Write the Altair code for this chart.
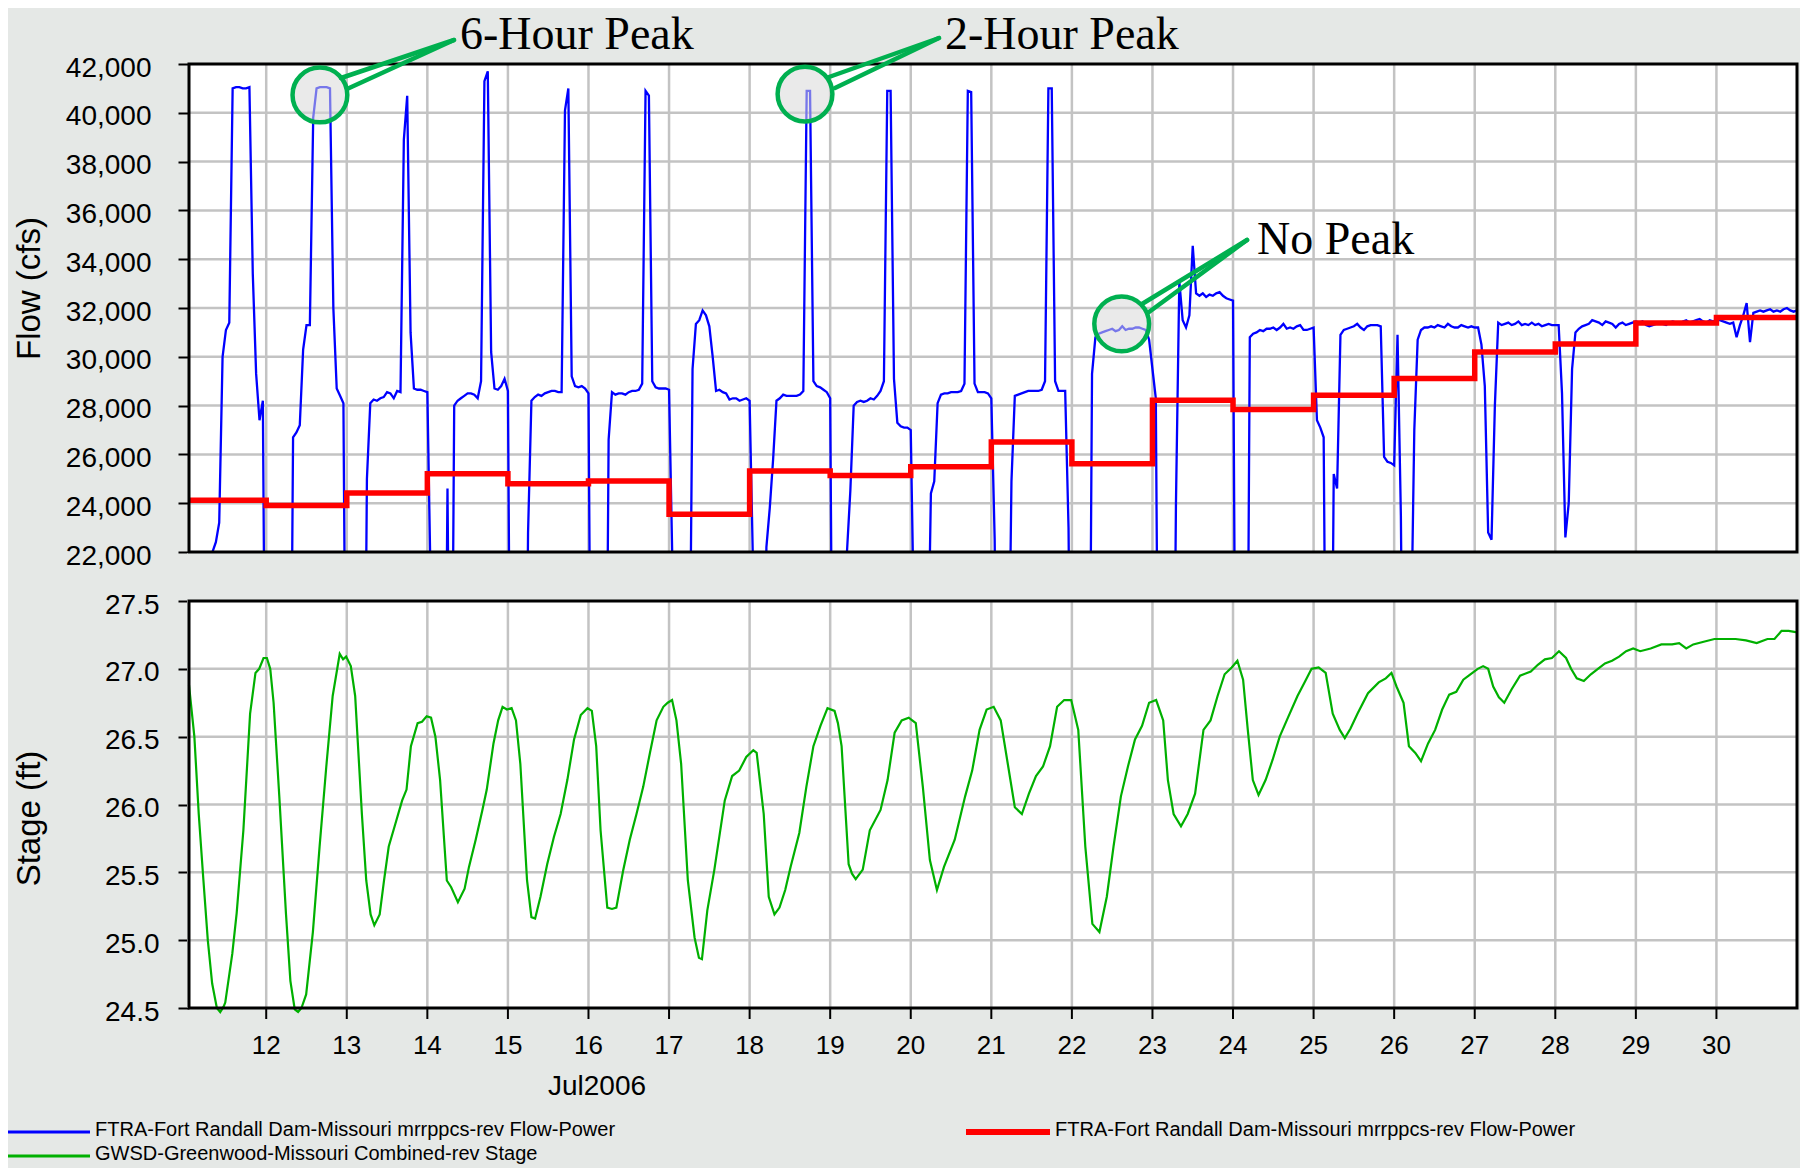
import altair as alt
import pandas as pd

# ---------------- values ----------------
# FTRA hourly flow (cfs), hours 01..24 of each day in July 2006 (values below 22,000 are off-axis lows)
flow_11 = [8000, 8000, 8000, 8000, 8000, 8000, 8000, 22000, 22400, 23200, 30000, 31100, 31400, 41000, 41050, 41050, 41000, 41000, 41050, 33400, 29300, 27400, 28200, 8000]
flow_12 = [8000, 8000, 8000, 8000, 8000, 8000, 8000, 26700, 26900, 27200, 30300, 31300, 31300, 39800, 41000, 41050, 41050, 41050, 41000, 32000, 28700, 28400, 28100, 8000]
flow_13 = [8000, 8000, 8000, 8000, 8000, 25000, 28100, 28250, 28200, 28300, 28350, 28550, 28500, 28300, 28600, 28550, 38900, 40700, 31000, 28700, 28650, 28650, 28600, 28550]
flow_14 = [20500, 8000, 8000, 8000, 8000, 24600, 8000, 28000, 28200, 28300, 28400, 28500, 28500, 28450, 28300, 29000, 41300, 41700, 30200, 28700, 28650, 28800, 29100, 28600]
flow_15 = [8000, 8000, 8000, 8000, 8000, 22800, 28200, 28350, 28450, 28400, 28500, 28550, 28600, 28600, 28550, 28550, 40100, 41000, 29200, 28800, 28750, 28800, 28700, 28500]
flow_16 = [8000, 8000, 8000, 8000, 8000, 26600, 28550, 28450, 28500, 28500, 28450, 28550, 28600, 28600, 28650, 28900, 40900, 40700, 29000, 28750, 28700, 28700, 28700, 28650]
flow_17 = [21500, 8000, 8000, 8000, 8000, 14000, 29500, 31350, 31500, 31900, 31700, 31250, 30000, 28600, 28650, 28550, 28500, 28250, 28300, 28300, 28200, 28250, 28300, 28200]
flow_18 = [21500, 8000, 8000, 8000, 22200, 23800, 25800, 28200, 28300, 28450, 28400, 28400, 28400, 28400, 28450, 28600, 40900, 40900, 29000, 28800, 28750, 28650, 28550, 28300]
flow_19 = [8000, 8000, 8000, 8000, 22000, 24500, 28000, 28150, 28200, 28150, 28200, 28300, 28250, 28400, 28600, 29000, 40900, 40900, 29100, 27300, 27150, 27100, 27100, 27000]
flow_20 = [18700, 8000, 8000, 8000, 16000, 24400, 24900, 28100, 28450, 28500, 28500, 28550, 28550, 28550, 28600, 28900, 40900, 40850, 28900, 28550, 28550, 28550, 28500, 28300]
flow_21 = [22500, 8000, 8000, 8000, 14000, 24900, 28400, 28450, 28500, 28550, 28600, 28600, 28600, 28600, 28650, 29000, 41000, 41000, 29000, 28600, 28600, 28600, 23000, 8000]
flow_22 = [8000, 8000, 8000, 8000, 8000, 29300, 30800, 30950, 31000, 31050, 31100, 31150, 31050, 31100, 31250, 31100, 31150, 31150, 31200, 31200, 31150, 31100, 30700, 29500]
flow_23 = [28300, 8000, 8000, 8000, 8000, 8000, 24000, 33100, 31500, 31200, 31700, 34550, 32600, 32500, 32600, 32450, 32550, 32500, 32600, 32650, 32500, 32400, 32350, 32300]
flow_24 = [8000, 8000, 8000, 8000, 30800, 30950, 31000, 31100, 31050, 31150, 31150, 31200, 31100, 31200, 31350, 31150, 31200, 31150, 31250, 31300, 31100, 31100, 31150, 31200]
flow_25 = [27400, 27100, 26700, 8000, 8000, 25200, 24600, 30900, 31100, 31150, 31200, 31250, 31350, 31200, 31100, 31250, 31300, 31300, 31300, 31250, 25900, 25700, 25650, 25550]
flow_26 = [30900, 23500, 8000, 8000, 18000, 27000, 30700, 31100, 31200, 31200, 31250, 31200, 31300, 31250, 31200, 31350, 31250, 31200, 31200, 31300, 31250, 31200, 31250, 31200]
flow_27 = [31200, 30500, 28800, 22800, 22500, 28000, 31400, 31300, 31350, 31400, 31300, 31350, 31450, 31300, 31350, 31300, 31400, 31300, 31350, 31250, 31300, 31350, 31300, 31300]
flow_28 = [31300, 28500, 22600, 24000, 29500, 31000, 31150, 31250, 31300, 31350, 31500, 31450, 31400, 31300, 31450, 31400, 31350, 31200, 31350, 31400, 31300, 31350, 31400, 31450]
flow_29 = [31400, 31450, 31300, 31250, 31300, 31350, 31400, 31350, 31300, 31400, 31450, 31400, 31350, 31450, 31500, 31400, 31450, 31500, 31550, 31450, 31400, 31500, 31450, 31500]
flow_30 = [31500, 31450, 31400, 31350, 31400, 30800, 31300, 31700, 32200, 30600, 31800, 31850, 31900, 31850, 31900, 31950, 31850, 31900, 31850, 31950, 32000, 31900, 31850, 31900]

# FTRA daily flow (cfs), Jul 11 .. Jul 30
ftra_daily = [24120, 23910, 24420, 25210, 24800, 24910, 23550, 25320, 25140, 25490,
              26510, 25620, 28220, 27840, 28420, 29110, 30200, 30520, 31390, 31610]

# GWSD stage (ft): hours after Jul 11 00:00 and stage
stage_hours = [1.0, 2.6, 3.9, 5.3, 6.6, 7.9, 9.3, 10.3, 11.3, 11.8, 13.9, 15.2, 17.2, 19.2, 20.8, 21.9, 23.2, 24.2,
               25.2, 26.2, 27.9, 29.9, 31.2, 32.5, 33.5, 34.5, 35.9, 37.9, 39.9, 41.9, 43.8, 45.9, 46.9, 47.8,
               49.2, 50.5, 52.5, 53.8, 55.1, 56.2, 57.8, 59.1, 60.5, 62.5, 64.5, 65.8, 67.1, 69.1, 70.4, 71.8,
               73.1, 74.4, 75.8, 77.8, 79.1, 81.1, 83.1, 84.4, 86.4, 88.4, 89.7, 91.7, 93.1, 94.4, 95.7, 97.1,
               98.4, 99.7, 101.7, 103.0, 104.1, 105.7, 107.7, 109.7, 111.7, 113.7, 115.7, 117.7, 119.7, 121.0,
               122.3, 123.6, 125.6, 127.0, 128.3, 130.3, 132.3, 134.3, 136.3, 138.3, 140.3, 142.3, 143.6, 144.9,
               146.2, 147.6, 149.6, 151.6, 152.9, 153.8, 155.4, 157.5, 160.6, 162.8, 164.9, 167.0, 169.1, 170.1,
               172.2, 173.7, 175.4, 176.9, 178.6, 180.2, 182.8, 184.9, 187.0, 189.1, 191.2, 193.3, 194.3, 195.4,
               197.5, 198.5, 199.6, 201.7, 203.8, 207.0, 209.1, 211.2, 213.3, 215.4, 217.5, 219.6, 221.7, 223.8,
               225.9, 229.1, 232.2, 234.3, 236.5, 238.6, 240.7, 242.8, 244.9, 247.0, 249.1, 251.2, 253.3, 255.4,
               257.5, 259.6, 261.7, 263.8, 265.9, 268.0, 270.1, 272.2, 274.4, 276.4, 278.6, 280.7, 282.8, 284.9,
               287.0, 289.1, 291.2, 292.6, 294.3, 296.5, 298.5, 300.7, 303.2, 305.3, 307.4, 309.5, 311.6, 313.3,
               315.0, 316.4, 317.9, 319.6, 321.7, 323.8, 325.9, 328.0, 331.2, 333.3, 335.4, 337.5, 339.6, 341.7,
               343.8, 345.3, 347.0, 349.1, 352.2, 355.4, 357.5, 359.2, 360.7, 362.8, 364.4, 366.3, 368.0, 370.1,
               372.2, 374.3, 376.4, 378.5, 380.6, 382.7, 384.9, 386.5, 388.0, 389.5, 391.2, 392.8, 395.0, 397.5,
               400.7, 402.8, 404.9, 407.0, 409.1, 411.2, 412.7, 414.4, 416.5, 418.6, 420.7, 422.8, 424.9, 427.0,
               429.1, 431.2, 433.3, 436.4, 439.6, 442.8, 444.9, 447.0, 449.1, 452.2, 455.4, 458.5, 461.7, 464.8,
               468.0, 471.2, 473.3, 475.4, 477.5, 479.6, 480.0]
stage_ft = [26.88, 26.50, 25.93, 25.44, 25.00, 24.68, 24.50, 24.47, 24.51, 24.54, 24.90, 25.20, 25.81, 26.67, 26.97, 27.00, 27.08, 27.08,
            27.00, 26.75, 26.06, 25.19, 24.70, 24.49, 24.47, 24.50, 24.60, 25.06, 25.69, 26.28, 26.80, 27.11, 27.07, 27.09,
            27.02, 26.80, 25.93, 25.44, 25.19, 25.11, 25.19, 25.44, 25.69, 25.86, 26.03, 26.11, 26.43, 26.60, 26.61, 26.65,
            26.64, 26.50, 26.18, 25.44, 25.39, 25.28, 25.38, 25.54, 25.74, 25.96, 26.11, 26.45, 26.62, 26.72, 26.70, 26.71,
            26.62, 26.30, 25.44, 25.17, 25.16, 25.32, 25.56, 25.76, 25.93, 26.18, 26.48, 26.66, 26.71, 26.69,
            26.43, 25.81, 25.24, 25.23, 25.24, 25.51, 25.74, 25.93, 26.13, 26.38, 26.62, 26.72, 26.75, 26.77,
            26.62, 26.30, 25.44, 25.02, 24.87, 24.86, 25.22, 25.52, 26.03, 26.21, 26.25, 26.35, 26.40, 26.38,
            25.93, 25.32, 25.19, 25.24, 25.37, 25.54, 25.79, 26.13, 26.43, 26.58, 26.71, 26.69, 26.60, 26.43,
            25.56, 25.49, 25.45, 25.52, 25.81, 25.96, 26.18, 26.53, 26.62, 26.64, 26.60, 26.13, 25.59, 25.37,
            25.54, 25.74, 26.06, 26.25, 26.55, 26.70, 26.72, 26.62, 26.30, 25.98, 25.93, 26.08, 26.21, 26.28,
            26.43, 26.72, 26.77, 26.77, 26.55, 25.69, 25.12, 25.06, 25.32, 25.69, 26.06, 26.28, 26.48, 26.58,
            26.75, 26.77, 26.62, 26.18, 25.93, 25.84, 25.93, 26.08, 26.55, 26.62, 26.80, 26.96, 27.01, 27.06,
            26.92, 26.55, 26.18, 26.07, 26.18, 26.33, 26.50, 26.62, 26.80, 26.90, 27.00, 27.01, 26.97, 26.67,
            26.55, 26.49, 26.56, 26.67, 26.82, 26.90, 26.93, 26.97, 26.87, 26.75, 26.43, 26.38, 26.32, 26.45,
            26.55, 26.70, 26.81, 26.83, 26.92, 26.96, 27.00, 27.02, 27.00, 26.87, 26.79, 26.75, 26.85, 26.95,
            26.98, 27.03, 27.07, 27.08, 27.13, 27.08, 27.00, 26.93, 26.91, 26.96, 27.00, 27.04, 27.06, 27.09,
            27.13, 27.15, 27.13, 27.15, 27.18, 27.18, 27.19, 27.15, 27.18, 27.20, 27.22, 27.22, 27.22, 27.21,
            27.19, 27.22, 27.22, 27.28, 27.28, 27.27, 27.27]

day_ticks = list(range(12, 31))
flow_ticks = list(range(22000, 42001, 2000))
stage_ticks = [24.5, 25.0, 25.5, 26.0, 26.5, 27.0, 27.5]
month_label = "Jul2006"

ann_labels = ["6-Hour Peak", "2-Hour Peak", "No Peak"]
ann_times = ["2006-07-12 16:00", "2006-07-18 16:30", "2006-07-22 14:50"]
ann_flows = [40730, 40770, 31350]

legend_labels = ["FTRA-Fort Randall Dam-Missouri mrrppcs-rev Flow-Power",
                 "FTRA-Fort Randall Dam-Missouri mrrppcs-rev Flow-Power",
                 "GWSD-Greenwood-Missouri Combined-rev Stage"]

# ---------------- tables ----------------
T0 = pd.Timestamp("2006-07-11 00:00")
T_START = pd.Timestamp("2006-07-11 01:00")
T_END = pd.Timestamp("2006-07-31 00:00")

flow_all = (flow_11 + flow_12 + flow_13 + flow_14 + flow_15 + flow_16 + flow_17 + flow_18 + flow_19 + flow_20 +
            flow_21 + flow_22 + flow_23 + flow_24 + flow_25 + flow_26 + flow_27 + flow_28 + flow_29 + flow_30)
blue_df = pd.DataFrame({"t": [T0 + pd.Timedelta(hours=i + 1) for i in range(len(flow_all))], "flow": flow_all})
red_df = pd.DataFrame({"t": [T0 + pd.Timedelta(days=i) for i in range(len(ftra_daily))] + [T_END],
                       "flow": ftra_daily + [ftra_daily[-1]]})
green_df = pd.DataFrame({"t": [T0 + pd.Timedelta(hours=h) for h in stage_hours], "stage": stage_ft})

panel_df = pd.DataFrame({"t0": [T_START], "t1": [T_END], "f0": [22000], "f1": [42000], "s0": [24.5], "s1": [27.5]})
vgrid_df = pd.DataFrame({"t": [pd.Timestamp(2006, 7, d) for d in day_ticks], "day": [str(d) for d in day_ticks],
                         "f0": 22000, "f1": 42000, "s0": 24.5, "s1": 27.5})
fgrid_df = pd.DataFrame({"flow": flow_ticks[1:-1], "t0": T_START, "t1": T_END})
sgrid_df = pd.DataFrame({"stage": stage_ticks[1:-1], "t0": T_START, "t1": T_END})
ann_df = pd.DataFrame({"t": pd.to_datetime(ann_times), "flow": ann_flows, "label": ann_labels})
one = pd.DataFrame({"k": [0]})

# ---------------- styles / scales ----------------
W, H = 1608, 944
BG = "#e5e8e6"
GRID = "#c3c3c3"
FONT = "Liberation Sans"
SERIF = "Liberation Serif"
CALLOUT = "#00b050"

X_SCALE = alt.Scale(domain=[alt.DateTime(year=2006, month=7, date=11, hours=1),
                            alt.DateTime(year=2006, month=7, date=31, hours=0)], nice=False)
FLOW_SCALE = alt.Scale(domain=[22000, 42000], range=[488, 0], nice=False, zero=False)
STAGE_SCALE = alt.Scale(domain=[24.5, 27.5], range=[944, 537], nice=False, zero=False)

FLOW_AXIS = alt.Axis(values=flow_ticks, format=",d", orient="left",
                     labelFont=FONT, labelFontSize=28, labelColor="black", labelPadding=27, labelOffset=4,
                     labelOverlap=False, tickSize=11, tickColor="black", tickWidth=2, domain=False, grid=False,
                     title="Flow (cfs)", titleFont=FONT, titleFontSize=33, titleFontWeight="normal",
                     titleColor="black", titleX=-160, titleY=224, titleAngle=270, titleAlign="center",
                     titleBaseline="middle")
STAGE_AXIS = alt.Axis(values=stage_ticks, format=".1f", orient="left",
                      labelFont=FONT, labelFontSize=28, labelColor="black", labelPadding=19, labelOffset=4,
                      labelOverlap=False, tickSize=11, tickColor="black", tickWidth=2, domain=False, grid=False,
                      title="Stage (ft)", titleFont=FONT, titleFontSize=33, titleFontWeight="normal",
                      titleColor="black", titleX=-160, titleY=754, titleAngle=270, titleAlign="center",
                      titleBaseline="middle")


def xt(field):
    return alt.X(f"{field}:T", scale=X_SCALE, axis=None)


def px_rule(x1, y1, x2, y2, color, width, cap="butt"):
    return alt.Chart(one).mark_rule(color=color, strokeWidth=width, strokeCap=cap).encode(
        x=alt.value(x1), y=alt.value(y1), x2=alt.value(x2), y2=alt.value(y2))


def px_text(txt, x, y, size, font, baseline="middle", align="left"):
    return alt.Chart(one).mark_text(text=txt, font=font, fontSize=size, color="black", align=align,
                                    baseline=baseline).encode(x=alt.value(x), y=alt.value(y))


# ---------------- top panel (flow) ----------------
top_bg = alt.Chart(panel_df).mark_rect(color="white").encode(
    x=xt("t0"), x2="t1:T", y=alt.Y("f0:Q", scale=FLOW_SCALE, axis=None), y2="f1:Q")
top_hgrid = alt.Chart(fgrid_df).mark_rule(color=GRID, strokeWidth=2.5).encode(
    x=xt("t0"), x2="t1:T", y=alt.Y("flow:Q", scale=FLOW_SCALE, axis=FLOW_AXIS))
top_vgrid = alt.Chart(vgrid_df).mark_rule(color=GRID, strokeWidth=2.5).encode(
    x=xt("t"), y=alt.Y("f0:Q", scale=FLOW_SCALE, axis=None), y2="f1:Q")
blue = alt.Chart(blue_df).mark_line(color="#0000ff", strokeWidth=2.3).encode(
    x=xt("t"), y=alt.Y("flow:Q", scale=FLOW_SCALE, axis=None))
red = alt.Chart(red_df).mark_line(color="#ff0000", strokeWidth=5.5, interpolate="step-after", clip=True).encode(
    x=xt("t"), y=alt.Y("flow:Q", scale=FLOW_SCALE, axis=None))

# mask below the flow panel (hides the off-axis lows)
gap_mask = alt.Chart(one).mark_rect(color=BG).encode(
    x=alt.value(-2), x2=alt.value(W + 2), y=alt.value(489), y2=alt.value(H))

# ---------------- bottom panel (stage) ----------------
bot_bg = alt.Chart(panel_df).mark_rect(color="white").encode(
    x=xt("t0"), x2="t1:T", y=alt.Y("s0:Q", scale=STAGE_SCALE, axis=None), y2="s1:Q")
bot_hgrid = alt.Chart(sgrid_df).mark_rule(color=GRID, strokeWidth=2.5).encode(
    x=xt("t0"), x2="t1:T", y=alt.Y("stage:Q", scale=STAGE_SCALE, axis=STAGE_AXIS))
bot_vgrid = alt.Chart(vgrid_df).mark_rule(color=GRID, strokeWidth=2.5).encode(
    x=xt("t"), y=alt.Y("s0:Q", scale=STAGE_SCALE, axis=None), y2="s1:Q")
green = alt.Chart(green_df).mark_line(color="#00b000", strokeWidth=2.2).encode(
    x=xt("t"), y=alt.Y("stage:Q", scale=STAGE_SCALE, axis=None))

# ---------------- time axis (ticks, day labels, month title) ----------------
x_ticks = alt.Chart(vgrid_df).mark_rule(color="black", strokeWidth=2).encode(
    x=xt("t"), y=alt.value(H), y2=alt.value(H + 11))
x_labels = alt.Chart(vgrid_df).mark_text(font=FONT, fontSize=26, color="black", align="center",
                                         baseline="middle").encode(
    x=xt("t"), y=alt.value(H + 38), text="day:N")
x_title = px_text(month_label, 408, 1023, 28, FONT, align="center")

# ---------------- frames ----------------
top_frame = alt.Chart(panel_df).mark_rect(fillOpacity=0, stroke="black", strokeWidth=3).encode(
    x=xt("t0"), x2="t1:T", y=alt.Y("f0:Q", scale=FLOW_SCALE, axis=None), y2="f1:Q")
bot_frame = alt.Chart(panel_df).mark_rect(fillOpacity=0, stroke="black", strokeWidth=3).encode(
    x=xt("t0"), x2="t1:T", y=alt.Y("s0:Q", scale=STAGE_SCALE, axis=None), y2="s1:Q")

# ---------------- call-outs ----------------
circles = alt.Chart(ann_df).mark_point(shape="circle", size=3000, filled=True, fill="#d8d8d8", fillOpacity=0.55,
                                       stroke=CALLOUT, strokeWidth=4.5, strokeOpacity=1, opacity=1).encode(
    x=xt("t"), y=alt.Y("flow:Q", scale=FLOW_SCALE, axis=None))
wedges = [
    px_rule(152, 14, 265, -24, CALLOUT, 4.5, "round"), px_rule(158, 25, 265, -24, CALLOUT, 4.5, "round"),
    px_rule(640, 13, 750, -26, CALLOUT, 4.5, "round"), px_rule(646, 24, 750, -26, CALLOUT, 4.5, "round"),
    px_rule(953, 240, 1058, 176, CALLOUT, 4.5, "round"), px_rule(960, 248, 1058, 176, CALLOUT, 4.5, "round"),
]
ann_texts = [
    px_text(ann_labels[0], 271, -15, 46, SERIF, "alphabetic"),
    px_text(ann_labels[1], 756, -15, 46, SERIF, "alphabetic"),
    px_text(ann_labels[2], 1068, 190, 46, SERIF, "alphabetic"),
]

# ---------------- legend ----------------
legend = [
    px_rule(-183, 1068, -99, 1068, "#0000ff", 3),
    px_text(legend_labels[0], -94, 1066, 20, FONT),
    px_rule(777, 1068, 861, 1068, "#ff0000", 6),
    px_text(legend_labels[1], 866, 1066, 20, FONT),
    px_rule(-183, 1092, -99, 1092, "#00b000", 3),
    px_text(legend_labels[2], -94, 1090, 20, FONT),
]

chart = alt.layer(
    top_bg, top_hgrid, top_vgrid, blue, red,
    gap_mask,
    bot_bg, bot_hgrid, bot_vgrid, green,
    top_frame, bot_frame,
    x_ticks, x_labels, x_title,
    circles, *wedges, *ann_texts, *legend,
).resolve_scale(y="independent").properties(
    width=W, height=H,
    autosize=alt.AutoSizeParams(type="none"),
    padding={"left": 181, "top": 56, "right": 3, "bottom": 160},
    background=BG,
).configure_view(stroke="transparent")

chart.save("out.html", embed_options={"renderer": "svg", "actions": False})
